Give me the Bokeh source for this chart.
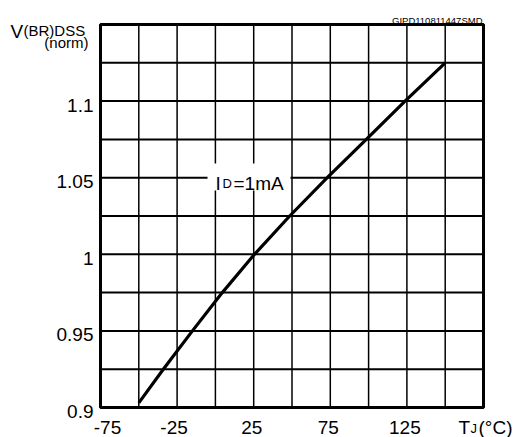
from bokeh.plotting import figure
from bokeh.models import Range1d, Label, BoxAnnotation
from bokeh.core.properties import value
from bokeh.embed import file_html
from bokeh.resources import INLINE

# data
tj = [-50, -34, -15, 4.5, 25.5, 48.5, 73, 98.5, 123.8, 150]
vbr = [0.903, 0.925, 0.95, 0.975, 1.0, 1.025, 1.05, 1.075, 1.1, 1.125]

x_ticks = [-75, -25, 25, 75, 125]
x_tick_labels = ["-75", "-25", "25", "75", "125"]
y_ticks = [0.9, 0.95, 1.0, 1.05, 1.1]
y_tick_labels = ["0.9", "0.95", "1", "1.05", "1.1"]
x_grid = [-75, -50, -25, 0, 25, 50, 75, 100, 125, 150, 175]
y_grid = [0.9, 0.925, 0.95, 0.975, 1.0, 1.025, 1.05, 1.075, 1.1, 1.125, 1.15]

FONT = "Liberation Sans"
W, H = 519, 437
# plot area in canvas pixels
FL, FR, FT, FB = 100, 483, 24, 407
XMIN, XMAX = x_grid[0], x_grid[-1]
YMIN, YMAX = y_grid[0], y_grid[-1]
DX = (XMAX - XMIN) / (FR - FL)
DY = (YMAX - YMIN) / (FB - FT)

def X(px):
    return XMIN + (px - FL) * DX

def Y(py):
    return YMIN + (FB - py) * DY

p = figure(width=W, height=H, output_backend="svg", toolbar_location=None,
           x_range=Range1d(X(0), X(W)), y_range=Range1d(Y(H), Y(0)),
           x_axis_location=None, y_axis_location=None, min_border=0)
p.outline_line_color = None
p.grid.visible = False
p.background_fill_color = "white"
p.border_fill_color = "white"

nx, ny = len(x_grid), len(y_grid)
# grid
p.segment(x0=x_grid, y0=[YMIN] * nx, x1=x_grid, y1=[YMAX] * nx,
          line_color="black", line_width=1.5)
p.segment(x0=[XMIN] * ny, y0=y_grid, x1=[XMAX] * ny, y1=y_grid,
          line_color="black", line_width=2)
# frame
p.quad(left=XMIN, right=XMAX, bottom=YMIN, top=YMAX, fill_color=None,
       line_color="black", line_width=3)

# curve
p.line(tj, vbr, line_color="black", line_width=3.2, line_join="round")

# tick labels
p.text(x=x_ticks, y=[Y(426.5)] * len(x_ticks), text=x_tick_labels,
       x_offset=[7, -3, -2, -2, -2],
       text_font=value(FONT), text_font_size="19px", text_color="black",
       text_align="center", text_baseline="alphabetic")
p.text(x=[X(93)] * len(y_ticks), y=[t - 4 * DY for t in y_ticks], text=y_tick_labels,
       text_font=value(FONT), text_font_size="19px", text_color="black",
       text_align="right", text_baseline="alphabetic")

# label box
box = BoxAnnotation(left=X(207), right=X(290), bottom=Y(190), top=Y(163),
                    fill_color="white", fill_alpha=1, line_color=None, level="annotation")
p.add_layout(box)

def lab(text, px, py, size, align="left"):
    l = Label(x=X(px), y=Y(py), text=text, text_font=FONT, text_font_size=size,
              text_color="black", text_align=align, text_baseline="alphabetic")
    p.add_layout(l)

# I_D = 1mA
lab("I", 215, 183, "19px")
lab("D", 222, 183, "13px")
lab("=1mA", 233, 183, "19px")

# y title
lab("V", 10, 31, "19px")
lab("(BR)DSS", 23, 30, "15px")
lab("(norm)", 88, 42, "15px", align="right")

# code top right
lab("GIPD110811447SMD", 482, 20, "9.5px", align="right")

# x title
lab("T", 458, 426.5, "19px")
lab("J", 470, 427.5, "13px")
lab("(°C)", 478, 426.5, "19px")

open("out.html", "w").write(file_html(p, INLINE))
